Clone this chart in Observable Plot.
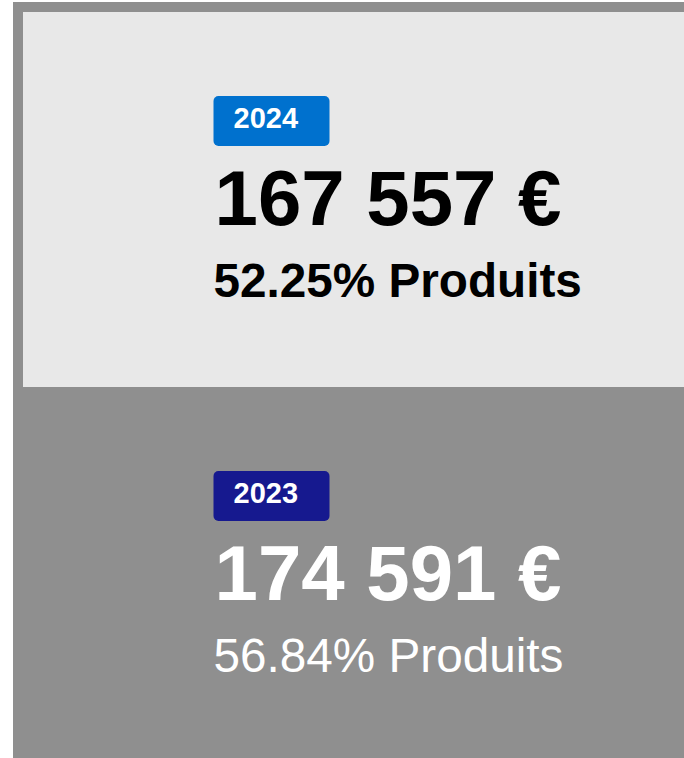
<!DOCTYPE html>
<html><head><meta charset="utf-8">
<script src="https://cdn.jsdelivr.net/npm/d3@7"></script>
<script src="https://cdn.jsdelivr.net/npm/@observablehq/plot@0.6"></script>
<style>
html,body{margin:0;padding:0;background:#fff;overflow:hidden;}
#chart{position:absolute;left:13px;top:2px;}
</style></head><body><div id="chart"></div>
<script>
// ---- data ----
const years = ["2024", "2023"];
const amounts = [167557, 174591];
const shares = [52.25, 56.84];
const shareLabel = "Produits";

// ---- styles ----
const cardFill = ["#e8e8e8", "#8f8f8f"];
const badgeFill = ["#0071ce", "#16198f"];
const textFill = ["#000000", "#ffffff"];
const shareWeight = ["bold", "normal"];
const font = "Liberation Sans, Arial, Helvetica, sans-serif";

const data = years.map((year, i) => ({year, amount: amounts[i], share: shares[i], i}));

const locale = d3.formatLocale({decimal: ".", thousands: " ", grouping: [3], currency: ["", " €"]});
const fmtAmount = locale.format("$,.0f");
const fmtShare = d => d3.format(".2f")(d.share) + "% " + shareLabel;

// rounded rectangle badge symbol
const badge = {
  draw(ctx) {
    const w = 116, h = 50, r = 5, x0 = -w / 2, y0 = -h / 2, x1 = w / 2, y1 = h / 2;
    ctx.moveTo(x0 + r, y0);
    ctx.lineTo(x1 - r, y0);
    ctx.arcTo(x1, y0, x1, y0 + r, r);
    ctx.lineTo(x1, y1 - r);
    ctx.arcTo(x1, y1, x1 - r, y1, r);
    ctx.lineTo(x0 + r, y1);
    ctx.arcTo(x0, y1, x0, y1 - r, r);
    ctx.lineTo(x0, y0 + r);
    ctx.arcTo(x0, y0, x0 + r, y0, r);
    ctx.closePath();
  }
};

const common = {y: "year", frameAnchor: "left", textAnchor: "start", lineAnchor: "bottom", fontFamily: font};

const chart = Plot.plot({
  width: 671,
  height: 756,
  marginTop: 10,
  marginLeft: 10,
  marginRight: 0,
  marginBottom: 0,
  style: {background: "#8f8f8f", fontFamily: font},
  y: {domain: years, range: [10, 760], padding: 0, axis: null},
  color: {type: "identity"},
  marks: [
    Plot.cell(data, {y: "year", fill: d => cardFill[d.i]}),
    Plot.dot(data, {y: "year", frameAnchor: "left", dx: 248, dy: -79, symbol: badge, fill: d => badgeFill[d.i]}),
    Plot.text(data, {...common, text: "year", dx: 210, dy: -72, fill: "white", fontSize: 29, fontWeight: "bold"}),
    Plot.text(data, {...common, text: d => fmtAmount(d.amount), dx: 191, dy: 25, fill: d => textFill[d.i], fontSize: 78, fontWeight: "bold"}),
    Plot.text(data, {...common, filter: d => shareWeight[d.i] === "bold", text: fmtShare, dx: 190, dy: 97, fill: d => textFill[d.i], fontSize: 47.7, fontWeight: "bold"}),
    Plot.text(data, {...common, filter: d => shareWeight[d.i] !== "bold", text: fmtShare, dx: 190, dy: 97, fill: d => textFill[d.i], fontSize: 47.7, fontWeight: "normal"})
  ]
});
document.getElementById("chart").appendChild(chart);
</script></body></html>
